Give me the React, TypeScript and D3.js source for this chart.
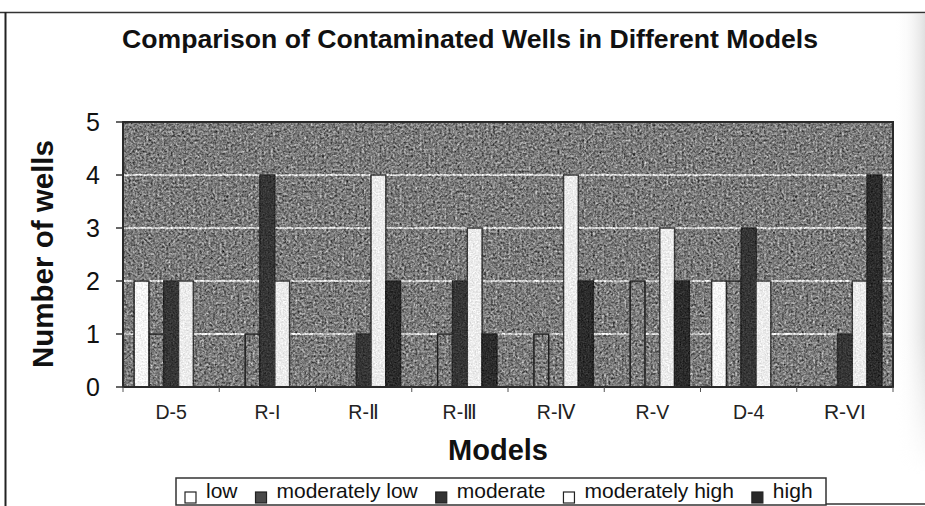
import React, { useMemo } from "react";
import * as d3 from "d3";

const categories = ["D-5", "R-I", "R-Ⅱ", "R-Ⅲ", "R-Ⅳ", "R-V", "D-4", "R-VI"];
const seriesNames = ["low", "moderately low", "moderate", "moderately high", "high"];
const lowValues = [2, 0, 0, 0, 0, 0, 2, 0];
const modLowValues = [1, 1, 0, 1, 1, 2, 2, 0];
const moderateValues = [2, 4, 1, 2, 0, 0, 3, 1];
const modHighValues = [2, 2, 4, 3, 4, 3, 2, 2];
const highValues = [0, 0, 2, 1, 2, 2, 0, 4];
const yTicks = [0, 1, 2, 3, 4, 5];

const seriesValues = [lowValues, modLowValues, moderateValues, modHighValues, highValues];
const barFill = ["#f6f6f6", "#7e7e7e", "#363636", "#ececec", "#2c2c2c"];
const barStroke = ["#2a2a2a", "#1e1e1e", "#2a2a2a", "#3a3a3a", "#222222"];
const legendFill = ["#ffffff", "#4a4a4a", "#333333", "#ffffff", "#2a2a2a"];
// series drawn with the same coarse scan texture as the plot background
const texturedSeries = [false, true, false, false, false];

const W = 925;
const H = 506;
const plot = { left: 123, right: 893, top: 122, bottom: 387 };
const FONT = "'Liberation Sans', Arial, sans-serif";

export default function App() {
  const x = d3.scaleBand<string>().domain(categories).range([plot.left, plot.right]).paddingInner(0).paddingOuter(0);
  const xs = d3
    .scaleBand<string>()
    .domain(seriesNames)
    .range([0, x.bandwidth()])
    .paddingInner(0)
    .paddingOuter(0.75);
  const y = d3.scaleLinear().domain([0, 5]).range([plot.bottom, plot.top]);

  const legendFontSize = 21;
  const legendLayout = useMemo(() => {
    const ctx = document.createElement("canvas").getContext("2d");
    let cx = 185;
    return seriesNames.map((name) => {
      let w = name.length * 10;
      if (ctx) {
        ctx.font = `${legendFontSize}px 'Liberation Sans'`;
        w = ctx.measureText(name).width;
      }
      const item = { name, sx: cx, tx: cx + 21 };
      cx = cx + 21 + w + 18;
      return item;
    });
  }, []);

  const boundaries = d3.range(categories.length + 1).map((i) => plot.left + i * x.step());

  const bars = (textured: boolean, mode: "fill" | "stroke" | "both") =>
    seriesValues.map((vals, si) =>
      texturedSeries[si] !== textured
        ? null
        : vals.map((v, ci) =>
            v > 0 ? (
              <rect
                key={`${si}-${ci}-${mode}`}
                x={(x(categories[ci]) as number) + (xs(seriesNames[si]) as number)}
                y={y(v)}
                width={xs.bandwidth()}
                height={y(0) - y(v)}
                fill={mode === "stroke" ? "none" : barFill[si]}
                stroke={mode === "fill" ? "none" : barStroke[si]}
                strokeWidth={1.5}
              />
            ) : null
          )
    );

  const grainFilter = (id: string, k3: number, freq: number) => (
    <filter
      id={id}
      filterUnits="userSpaceOnUse"
      x={plot.left}
      y={plot.top}
      width={plot.right - plot.left}
      height={plot.bottom - plot.top}
      colorInterpolationFilters="sRGB"
    >
      <feTurbulence type="fractalNoise" baseFrequency={freq} numOctaves="2" seed="11" result="noise" />
      <feColorMatrix
        in="noise"
        type="matrix"
        values="0.33 0.33 0.33 0 0  0.33 0.33 0.33 0 0  0.33 0.33 0.33 0 0  0 0 0 0 1"
        result="gnoise"
      />
      <feComposite in="SourceGraphic" in2="gnoise" operator="arithmetic" k1="0" k2="1" k3={k3} k4={-k3 / 2} />
      <feComposite in2="SourceAlpha" operator="in" />
    </filter>
  );

  return (
    <svg
      width={W}
      height={H}
      viewBox={`0 0 ${W} ${H}`}
      style={{ position: "absolute", left: 0, top: 0, background: "#fff" }}
    >
      <defs>
        {grainFilter("grain", 1.5, 0.45)}
        {grainFilter("grainLight", 0.5, 0.6)}
        <linearGradient id="edge" x1="0" x2="1" y1="0" y2="0">
          <stop offset="0" stopColor="#ffffff" stopOpacity="0" />
          <stop offset="1" stopColor="#d4d4d4" stopOpacity="0.7" />
        </linearGradient>
        <linearGradient id="edgeMask" x1="0" x2="0" y1="0" y2="1">
          <stop offset="0" stopColor="#fff" stopOpacity="1" />
          <stop offset="0.7" stopColor="#fff" stopOpacity="1" />
          <stop offset="1" stopColor="#fff" stopOpacity="0" />
        </linearGradient>
        <mask id="fadeMask">
          <rect x={895} y={14} width={30} height={460} fill="url(#edgeMask)" />
        </mask>
      </defs>

      {/* scan edge shading */}
      <rect x={895} y={14} width={30} height={460} fill="url(#edge)" mask="url(#fadeMask)" />

      {/* outer frame */}
      <line x1={0} x2={W} y1={12.5} y2={12.5} stroke="#333" strokeWidth={1.5} />
      <line x1={5.5} x2={5.5} y1={12} y2={H} stroke="#222" strokeWidth={2} />
      <line x1={826} x2={W} y1={504} y2={504} stroke="#333" strokeWidth={1.5} />

      {/* title */}
      <text
        x={470}
        y={48}
        textAnchor="middle"
        fontFamily={FONT}
        fontWeight="bold"
        fontSize={25}
        textLength={696}
        lengthAdjust="spacingAndGlyphs"
        fill="#111"
      >
        Comparison of Contaminated Wells in Different Models
      </text>

      {/* plot area */}
      <g filter="url(#grain)">
        <rect
          x={plot.left}
          y={plot.top}
          width={plot.right - plot.left}
          height={plot.bottom - plot.top}
          fill="#7c7c7c"
        />
        {yTicks
          .filter((t) => t > 0 && t < 5)
          .map((t) => (
            <line
              key={t}
              x1={plot.left}
              x2={plot.right}
              y1={y(t)}
              y2={y(t)}
              stroke="#d2d2d2"
              strokeWidth={2}
            />
          ))}
        {bars(true, "fill")}
      </g>
      {bars(true, "stroke")}
      <g filter="url(#grainLight)">{bars(false, "both")}</g>
      <rect
        x={plot.left}
        y={plot.top}
        width={plot.right - plot.left}
        height={plot.bottom - plot.top}
        fill="none"
        stroke="#2a2a2a"
        strokeWidth={2}
      />

      {/* y axis ticks and labels */}
      {yTicks.map((t) => (
        <g key={t}>
          <line x1={plot.left - 7} x2={plot.left} y1={y(t)} y2={y(t)} stroke="#333" strokeWidth={1.5} />
          <text
            x={100}
            y={y(t) + 9}
            textAnchor="end"
            fontFamily={FONT}
            fontSize={25}
            fill="#111"
          >
            {t}
          </text>
        </g>
      ))}

      {/* x axis ticks */}
      {boundaries.map((bx, i) => (
        <line key={i} x1={bx} x2={bx} y1={plot.bottom} y2={plot.bottom + 5} stroke="#555" strokeWidth={1} />
      ))}
      {categories.map((c) => (
        <text
          key={c}
          x={(x(c) as number) + x.bandwidth() / 2}
          y={419}
          textAnchor="middle"
          fontFamily={FONT}
          fontSize={c === "R-VI" ? 21 : 19.5}
          fill="#222"
        >
          {c}
        </text>
      ))}

      {/* axis titles */}
      <text
        transform="translate(53,254) rotate(-90)"
        textAnchor="middle"
        fontFamily={FONT}
        fontWeight="bold"
        fontSize={29}
        textLength={228}
        lengthAdjust="spacingAndGlyphs"
        fill="#111"
      >
        Number of wells
      </text>
      <text x={498} y={460} textAnchor="middle" fontFamily={FONT} fontWeight="bold" fontSize={29} fill="#111">
        Models
      </text>

      {/* legend */}
      <rect x={176} y={478} width={650} height={27} fill="#fff" stroke="#333" strokeWidth={1.5} />
      {legendLayout.map((it, i) => (
        <g key={it.name}>
          <rect
            x={it.sx}
            y={492}
            width={11}
            height={11}
            fill={legendFill[i]}
            stroke="#222"
            strokeWidth={1.2}
          />
          <text x={it.tx} y={498} fontFamily={FONT} fontSize={legendFontSize} fill="#111">
            {it.name}
          </text>
        </g>
      ))}
    </svg>
  );
}
